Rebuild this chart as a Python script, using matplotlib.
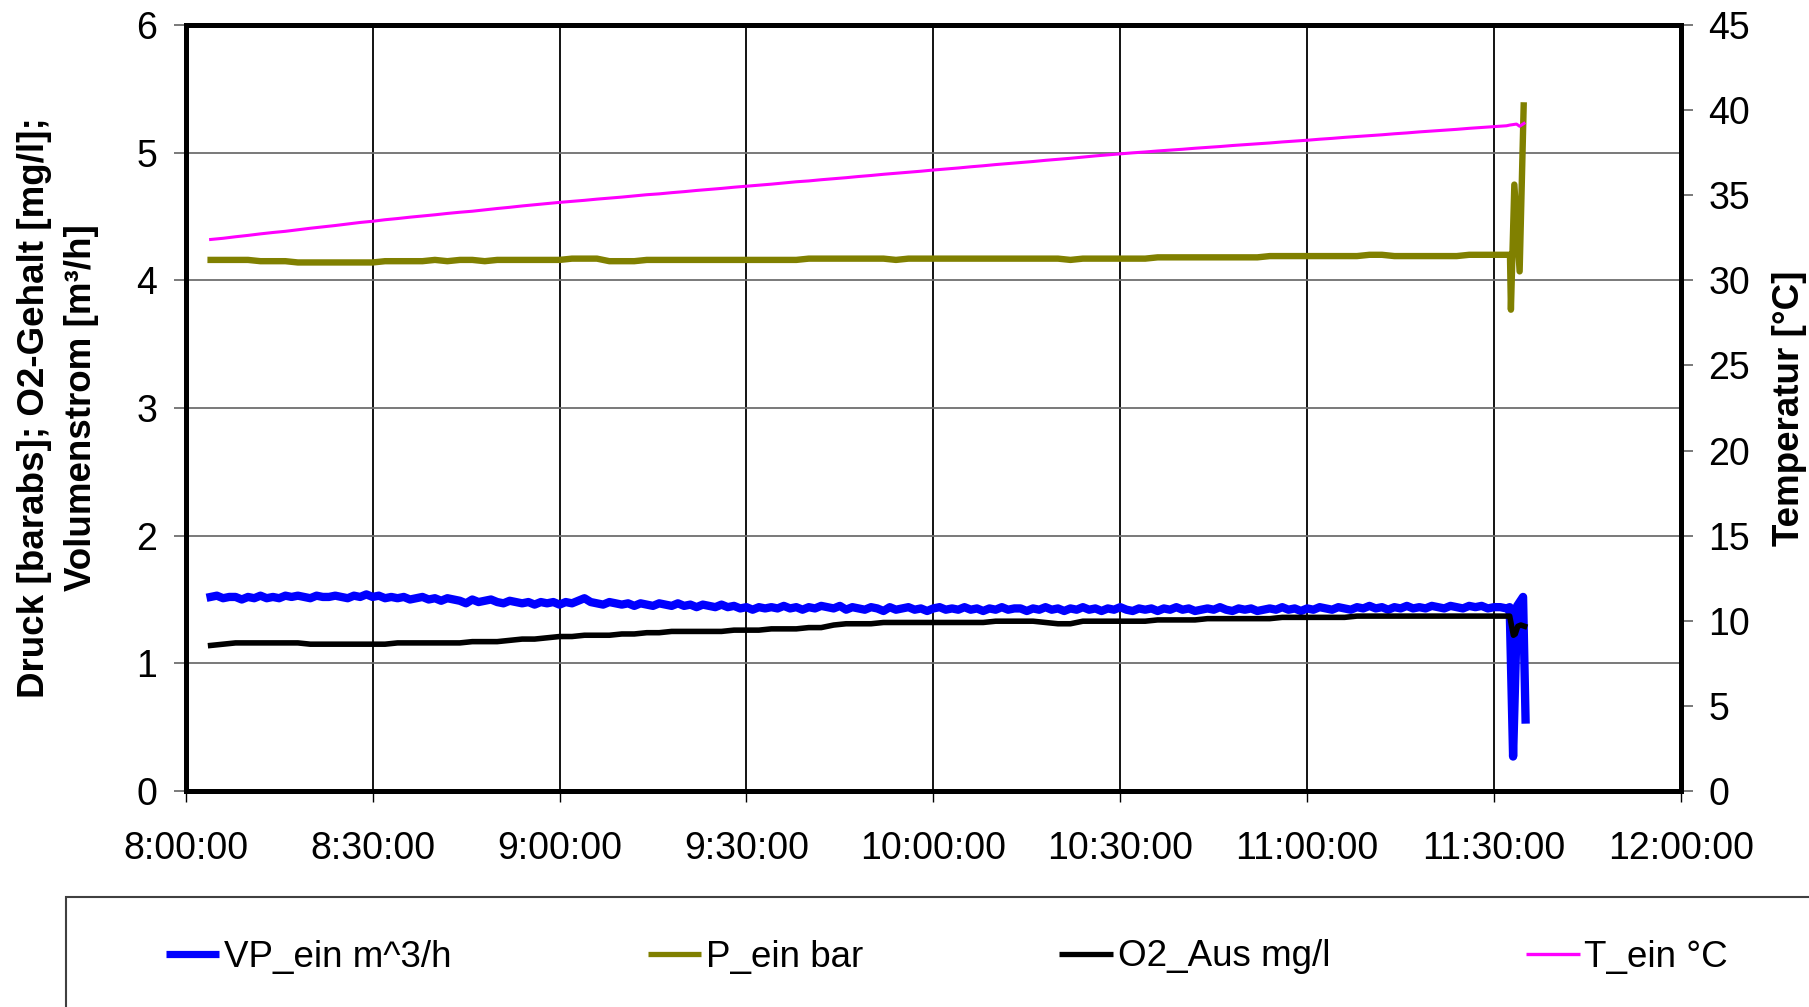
import matplotlib
matplotlib.use("Agg")
import matplotlib.pyplot as plt
import matplotlib.dates as mdates
from matplotlib.lines import Line2D
from matplotlib.patches import Rectangle
from matplotlib.ticker import FuncFormatter
import pandas as pd

plt.rcParams['font.family'] = ['Liberation Sans', 'DejaVu Sans']

# Sampling grids: flow logged every minute, the others every 2 minutes (8:04 .. 11:32)
day = pd.Timestamp("2000-01-01")
start, stop = day + pd.Timedelta("08:04:00"), day + pd.Timedelta("11:32:00")
flow_times = pd.date_range(start, stop, freq="1min")
body_times = pd.date_range(start, stop, freq="2min")

# Volumenstrom VP_ein [m^3/h], 1-minute values
vp_body = [
    1.52, 1.53, 1.51, 1.52, 1.52, 1.50, 1.52, 1.51, 1.53, 1.51,
    1.52, 1.51, 1.53, 1.52, 1.53, 1.52, 1.51, 1.53, 1.52, 1.52,
    1.53, 1.52, 1.51, 1.53, 1.52, 1.54, 1.52, 1.53, 1.51, 1.52,
    1.51, 1.52, 1.50, 1.51, 1.52, 1.50, 1.51, 1.49, 1.51, 1.50,
    1.49, 1.47, 1.50, 1.48, 1.49, 1.50, 1.48, 1.47, 1.49, 1.48,
    1.47, 1.48, 1.46, 1.48, 1.47, 1.48, 1.46, 1.48, 1.47, 1.49,
    1.51, 1.48, 1.47, 1.46, 1.48, 1.47, 1.46, 1.47, 1.45, 1.47,
    1.46, 1.45, 1.47, 1.46, 1.45, 1.47, 1.45, 1.46, 1.44, 1.46,
    1.45, 1.44, 1.46, 1.44, 1.45, 1.43, 1.44, 1.42, 1.44, 1.43,
    1.44, 1.43, 1.45, 1.43, 1.44, 1.42, 1.44, 1.43, 1.45, 1.44,
    1.43, 1.45, 1.42, 1.44, 1.43, 1.42, 1.44, 1.43, 1.41, 1.44,
    1.42, 1.43, 1.44, 1.42, 1.43, 1.41, 1.43, 1.44, 1.42, 1.43,
    1.42, 1.44, 1.42, 1.43, 1.41, 1.43, 1.42, 1.44, 1.42, 1.43,
    1.43, 1.41, 1.43, 1.42, 1.44, 1.42, 1.43, 1.41, 1.43, 1.42,
    1.44, 1.42, 1.43, 1.41, 1.43, 1.42, 1.44, 1.42, 1.41, 1.43,
    1.42, 1.43, 1.41, 1.43, 1.42, 1.44, 1.42, 1.43, 1.41, 1.42,
    1.43, 1.42, 1.44, 1.42, 1.41, 1.43, 1.42, 1.43, 1.41, 1.42,
    1.43, 1.42, 1.44, 1.42, 1.43, 1.41, 1.43, 1.42, 1.44, 1.43,
    1.42, 1.44, 1.43, 1.42, 1.44, 1.43, 1.45, 1.43, 1.44, 1.42,
    1.44, 1.43, 1.45, 1.43, 1.44, 1.43, 1.45, 1.44, 1.43, 1.45,
    1.44, 1.43, 1.45, 1.44, 1.45, 1.43, 1.44, 1.44, 1.43,
]
# Druck P_ein [bar abs]
p_body = [
    4.16, 4.16, 4.16, 4.16, 4.15, 4.15, 4.15, 4.14, 4.14, 4.14,
    4.14, 4.14, 4.14, 4.14, 4.15, 4.15, 4.15, 4.15, 4.16, 4.15,
    4.16, 4.16, 4.15, 4.16, 4.16, 4.16, 4.16, 4.16, 4.16, 4.17,
    4.17, 4.17, 4.15, 4.15, 4.15, 4.16, 4.16, 4.16, 4.16, 4.16,
    4.16, 4.16, 4.16, 4.16, 4.16, 4.16, 4.16, 4.16, 4.17, 4.17,
    4.17, 4.17, 4.17, 4.17, 4.17, 4.16, 4.17, 4.17, 4.17, 4.17,
    4.17, 4.17, 4.17, 4.17, 4.17, 4.17, 4.17, 4.17, 4.17, 4.16,
    4.17, 4.17, 4.17, 4.17, 4.17, 4.17, 4.18, 4.18, 4.18, 4.18,
    4.18, 4.18, 4.18, 4.18, 4.18, 4.19, 4.19, 4.19, 4.19, 4.19,
    4.19, 4.19, 4.19, 4.20, 4.20, 4.19, 4.19, 4.19, 4.19, 4.19,
    4.19, 4.20, 4.20, 4.20, 4.20,
]
# O2-Gehalt O2_Aus [mg/l]
o2_body = [
    1.14, 1.15, 1.16, 1.16, 1.16, 1.16, 1.16, 1.16, 1.15, 1.15,
    1.15, 1.15, 1.15, 1.15, 1.15, 1.16, 1.16, 1.16, 1.16, 1.16,
    1.16, 1.17, 1.17, 1.17, 1.18, 1.19, 1.19, 1.20, 1.21, 1.21,
    1.22, 1.22, 1.22, 1.23, 1.23, 1.24, 1.24, 1.25, 1.25, 1.25,
    1.25, 1.25, 1.26, 1.26, 1.26, 1.27, 1.27, 1.27, 1.28, 1.28,
    1.30, 1.31, 1.31, 1.31, 1.32, 1.32, 1.32, 1.32, 1.32, 1.32,
    1.32, 1.32, 1.32, 1.33, 1.33, 1.33, 1.33, 1.32, 1.31, 1.31,
    1.33, 1.33, 1.33, 1.33, 1.33, 1.33, 1.34, 1.34, 1.34, 1.34,
    1.35, 1.35, 1.35, 1.35, 1.35, 1.35, 1.36, 1.36, 1.36, 1.36,
    1.36, 1.36, 1.37, 1.37, 1.37, 1.37, 1.37, 1.37, 1.37, 1.37,
    1.37, 1.37, 1.37, 1.37, 1.37,
]
# Temperatur T_ein [°C]
t_body = [
    32.40, 32.47, 32.56, 32.64, 32.73, 32.81, 32.88, 32.97, 33.06, 33.14,
    33.22, 33.31, 33.40, 33.47, 33.56, 33.63, 33.71, 33.78, 33.85, 33.93,
    34.00, 34.06, 34.14, 34.22, 34.29, 34.37, 34.44, 34.51, 34.58, 34.64,
    34.70, 34.77, 34.83, 34.89, 34.96, 35.03, 35.08, 35.15, 35.21, 35.28,
    35.34, 35.40, 35.47, 35.53, 35.59, 35.65, 35.72, 35.79, 35.84, 35.91,
    35.97, 36.03, 36.10, 36.16, 36.23, 36.29, 36.35, 36.41, 36.48, 36.54,
    36.60, 36.67, 36.73, 36.80, 36.86, 36.92, 36.98, 37.05, 37.11, 37.17,
    37.24, 37.31, 37.37, 37.43, 37.49, 37.54, 37.60, 37.65, 37.70, 37.76,
    37.81, 37.86, 37.92, 37.97, 38.02, 38.07, 38.13, 38.18, 38.23, 38.29,
    38.34, 38.40, 38.45, 38.50, 38.55, 38.61, 38.66, 38.72, 38.77, 38.82,
    38.87, 38.93, 38.98, 39.03, 39.08,
]

# Shut-down transient after 11:30 (minutes past 11:30, value)
vp_tail_min = [2.5, 3.05, 3.7, 4.65, 5.05]
vp_tail_val = [1.44, 0.27, 1.45, 1.52, 0.56]
p_tail_min = [2.55, 2.7, 3.25, 4.1, 4.75]
p_tail_val = [4.20, 3.77, 4.75, 4.07, 5.37]
o2_tail_min = [2.5, 3.1, 3.4, 3.8, 4.3, 4.9]
o2_tail_val = [1.37, 1.22, 1.23, 1.29, 1.30, 1.29]
t_tail_min = [2.5, 3.6, 4.1, 4.8]
t_tail_val = [39.12, 39.18, 39.05, 39.22]

x_ticks_minutes = [0, 30, 60, 90, 120, 150, 180, 210, 240]
left_ticks = [0, 1, 2, 3, 4, 5, 6]
right_ticks = [0, 5, 10, 15, 20, 25, 30, 35, 40, 45]

series_names = ["VP_ein m^3/h", "P_ein bar", "O2_Aus mg/l", "T_ein °C"]
series_colors = ["#0000FF", "#808000", "#000000", "#FF00FF"]


def tail_times(minutes):
    base = day + pd.Timedelta("11:30:00")
    return [base + pd.Timedelta(minutes=m) for m in minutes]


vp_t = list(flow_times) + tail_times(vp_tail_min)
p_t = list(body_times) + tail_times(p_tail_min)
o2_t = list(body_times) + tail_times(o2_tail_min)
t_t = list(body_times) + tail_times(t_tail_min)

fig = plt.figure(figsize=(18.09, 10.07), dpi=100)
W, H = 1809, 1007
ax = fig.add_axes([185.7 / W, 1 - 791 / H, (1681 - 185.7) / W, (791 - 25) / H])
ax2 = ax.twinx()

ax.plot(vp_t, vp_body + vp_tail_val, color=series_colors[0], lw=6.0, zorder=3)
ax.plot(p_t, p_body + p_tail_val, color=series_colors[1], lw=4.6, zorder=3)
ax.plot(o2_t, o2_body + o2_tail_val, color=series_colors[2], lw=4.0, zorder=4)
ax2.plot(t_t, t_body + t_tail_val, color=series_colors[3], lw=2.2, zorder=3)

x0 = day + pd.Timedelta("08:00:00")
ax.set_xlim(x0, x0 + pd.Timedelta(minutes=240))
ax.set_xticks([x0 + pd.Timedelta(minutes=m) for m in x_ticks_minutes])


def hms(v, pos):
    d = mdates.num2date(v)
    return f"{d.hour}:{d.minute:02d}:00"


ax.xaxis.set_major_formatter(FuncFormatter(hms))
ax.set_ylim(0, 6)
ax.set_yticks(left_ticks)
ax2.set_ylim(0, 45)
ax2.set_yticks(right_ticks)

ax.grid(axis="y", color="#6e6e6e", lw=1.3)
ax.grid(axis="x", color="#000000", lw=1.3)
ax.set_axisbelow(True)

for a in (ax, ax2):
    for s in a.spines.values():
        s.set_linewidth(3.6)
        s.set_color("black")

ax.tick_params(axis="x", direction="out", length=8, width=1.0, color="black",
               labelsize=27, pad=20.5)
ax.tick_params(axis="y", direction="out", length=8.5, width=1.3, color="#6e6e6e",
               labelsize=27, pad=12)
ax2.tick_params(axis="y", direction="out", length=8.5, width=1.3, color="#6e6e6e",
                labelsize=27, pad=11)

ax.set_ylabel("Druck [barabs]; O2-Gehalt [mg/l];\nVolumenstrom [m³/h]",
              fontsize=26.5, fontweight="bold", linespacing=1.45)
ax.yaxis.set_label_coords(-0.058, 0.5)
ax2.set_ylabel("Temperatur [°C]", fontsize=26.5, fontweight="bold")
ax2.yaxis.set_label_coords(1.061, 0.5)

# Legend frame running off the lower right edge
fig.add_artist(Rectangle((66 / W, -0.2), 1.2, 0.2 + (1 - 897 / H), transform=fig.transFigure,
                         fill=False, edgecolor="#404040", lw=1.5))

handle_widths = [5.2, 3.8, 3.8, 2.4]
handles = [Line2D([], [], color=c, lw=w, solid_capstyle="butt")
           for c, w in zip(series_colors, handle_widths)]
fig.legend(handles, series_names, loc="center left", bbox_to_anchor=(166 / W, 1 - 957 / H),
           ncol=4, frameon=False, fontsize=26.5, handlelength=1.45, handletextpad=0.13,
           columnspacing=5.33, borderpad=0, borderaxespad=0)

fig.savefig("out.png", dpi=100)
